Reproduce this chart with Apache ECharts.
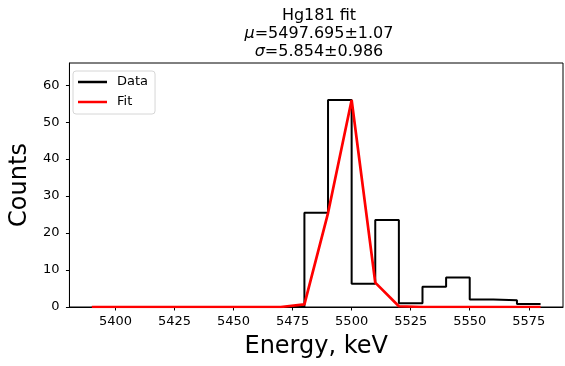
<!DOCTYPE html>
<html>
<head>
<meta charset="utf-8">
<script src="https://cdn.jsdelivr.net/npm/echarts@6/dist/echarts.min.js"></script>
<style>
  html, body { margin: 0; padding: 0; background: #fff; }
  #chart { width: 565px; height: 366px; }
</style>
</head>
<body>
<div id="chart"></div>
<script>
// Bin positions (keV), measured counts and Gaussian fit values
const energy = [5390, 5400, 5410, 5420, 5430, 5440, 5450, 5460, 5470, 5480,
                5490, 5500, 5510, 5520, 5530, 5540, 5550, 5560, 5570, 5580];
const counts = [0, 0, 0, 0, 0, 0, 0, 0, 0, 0,
                25.5, 56, 6.3, 23.5, 1.0, 5.5, 8.0, 2.0, 1.8, 0.8];
const fitValues = [0, 0, 0, 0, 0, 0, 0, 0, 0.0, 0.7,
                   25.4, 56, 6.6, 0.2, 0, 0, 0, 0, 0, 0];
const xTicks = [5400, 5425, 5450, 5475, 5500, 5525, 5550, 5575];
const titleLines = ['Hg181 fit', '=5497.695\u00b11.07', '=5.854\u00b10.986'];

const FONT = '"DejaVu Sans", sans-serif';
const pairs = (ys) => energy.map((x, i) => [x, ys[i]]);

const chart = echarts.init(document.getElementById('chart'), null, { renderer: 'canvas' });

chart.setOption({
  backgroundColor: '#ffffff',
  animation: false,
  title: {
    text: '{a|' + titleLines[0] + '}\n{i|\u03bc}{a|' + titleLines[1] + '}\n{i|\u03c3}{a|' + titleLines[2] + '}',
    left: 314,
    top: 2,
    textAlign: 'center',
    textStyle: {
      fontWeight: 'normal',
      rich: {
        a: { fontFamily: FONT, fontSize: 16, color: '#000', lineHeight: 18, fontWeight: 'normal' },
        i: { fontFamily: FONT, fontSize: 16, color: '#000', lineHeight: 18, fontWeight: 'normal', fontStyle: 'italic' }
      }
    }
  },
  legend: {
    orient: 'vertical',
    left: 73,
    top: 71,
    padding: [3, 7, 4, 5],
    itemGap: 4,
    itemWidth: 29,
    itemHeight: 2.5,
    backgroundColor: '#fff',
    borderColor: '#d6d6d6',
    borderWidth: 1,
    borderRadius: 3,
    textStyle: { fontFamily: FONT, fontSize: 13, color: '#000', lineHeight: 16, padding: [0, 0, 0, 5] },
    data: [
      { name: 'Data', icon: 'rect', itemStyle: { color: '#000' } },
      { name: 'Fit', icon: 'rect', itemStyle: { color: '#ff0000' } }
    ]
  },
  grid: {
    left: 66, right: 2, top: 63, bottom: 59,
    show: true, borderColor: '#000', borderWidth: 1, backgroundColor: 'transparent'
  },
  xAxis: {
    type: 'value',
    min: 5380.5,
    max: 5589.5,
    name: 'Energy, keV',
    nameLocation: 'middle',
    nameGap: 28,
    nameTextStyle: { fontFamily: FONT, fontSize: 24, color: '#000' },
    axisLine: { show: true, onZero: false, lineStyle: { color: '#000', width: 1 } },
    axisTick: { show: true, inside: false, length: 3.5, customValues: xTicks, lineStyle: { color: '#000' } },
    axisLabel: {
      customValues: xTicks, fontFamily: FONT, fontSize: 13, color: '#000', margin: 8,
      formatter: (v) => String(v)
    },
    splitLine: { show: false }
  },
  yAxis: {
    type: 'value',
    min: 0,
    max: 66,
    interval: 10,
    name: 'Counts',
    nameLocation: 'middle',
    nameGap: 35,
    nameTextStyle: { fontFamily: FONT, fontSize: 24, color: '#000' },
    axisLine: { show: true, lineStyle: { color: '#000', width: 1 } },
    axisTick: { show: true, inside: false, length: 3.5, lineStyle: { color: '#000' } },
    axisLabel: {
      fontFamily: FONT, fontSize: 13, color: '#000', margin: 10, showMaxLabel: false,
      formatter: (v) => String(v)
    },
    splitLine: { show: false }
  },
  series: [
    {
      name: 'Data',
      type: 'line',
      step: 'start',
      data: pairs(counts),
      symbol: 'none',
      lineStyle: { color: '#000', width: 2 },
      itemStyle: { color: '#000' },
      z: 2
    },
    {
      name: 'Fit',
      type: 'line',
      data: pairs(fitValues),
      symbol: 'none',
      lineStyle: { color: '#ff0000', width: 2.7 },
      itemStyle: { color: '#ff0000' },
      z: 3
    }
  ]
});
</script>
</body>
</html>
